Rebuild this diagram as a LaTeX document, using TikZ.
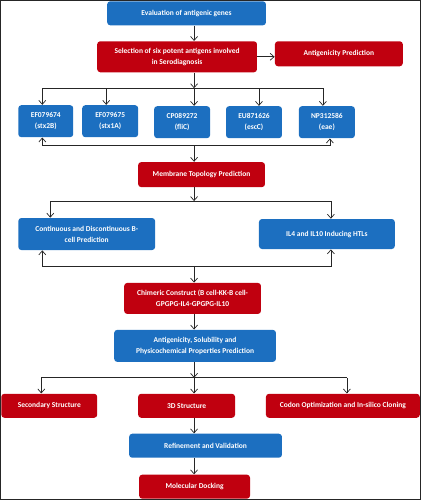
\documentclass[tikz,border=0pt]{standalone}
\usepackage{fontspec}
\setmainfont{Carlito}
\definecolor{boxBlue}{HTML}{1C6FC0}
\definecolor{boxRed}{HTML}{C0000F}
\colorlet{lineColor}{black!85}
\usepackage{tikz}
\usetikzlibrary{arrows.meta, positioning}
\tikzset{
  box/.style={rounded corners=3pt, text=white, align=center, inner sep=1pt,
    font=\fontsize{7.5}{11}\selectfont\bfseries},
  blueBox/.style={box, fill=boxBlue},
  redBox/.style={box, fill=boxRed},
}

\begin{document}
\begin{tikzpicture}[x=1pt, y=-1pt, >={Straight Barb[length=4pt, width=7pt]}, every path/.style={draw=lineColor, line width=0.7pt}]
\useasboundingbox (0,0) rectangle (421,500);
\coordinate (axis) at (194,0);
% top
\node[blueBox, minimum width=159pt, minimum height=24pt] (eval) at (186.5,13) {Evaluation of antigenic genes};
\node[redBox, minimum width=160pt, minimum height=31pt] (sel) at (177,56.5) {Selection of six potent antigens involved\\in Serodiagnosis};
\node[redBox, minimum width=128pt, minimum height=25pt] (antp) at (339,53.5) {Antigenicity Prediction};
% genes
\node[blueBox, minimum width=55pt, minimum height=32pt] (g1) at (45.5,121) {EF079674\\(stx2B)};
\node[blueBox, minimum width=56pt, minimum height=32pt] (g2) at (110,121) {EF079675\\(stx1A)};
\node[blueBox, minimum width=56pt, minimum height=32pt] (g3) at (182,122) {CP089272\\(fliC)};
\node[blueBox, minimum width=56pt, minimum height=32pt] (g4) at (254,122) {EU871626\\(escC)};
\node[blueBox, minimum width=56pt, minimum height=32pt] (g5) at (327,122) {NP312586\\(eae)};
\node[redBox, minimum width=127pt, minimum height=25pt] (memb) at (201.5,174.5) {Membrane Topology Prediction};
% epitopes
\node[blueBox, minimum width=137pt, minimum height=32pt] (cont) at (86.5,234) {Continuous and Discontinuous B-\\cell Prediction};
\node[blueBox, minimum width=136pt, minimum height=30pt] (il) at (327,234) {IL4 and IL10 Inducing HTLs};
\node[redBox, minimum width=137pt, minimum height=31pt] (chim) at (192.5,298.5) {Chimeric Construct (B cell-KK-B cell-\\GPGPG-IL4-GPGPG-IL10};
\node[blueBox, minimum width=162pt, minimum height=32pt] (asp) at (195,346) {Antigenicity, Solubility and\\Physicochemical Properties Prediction};
% structure
\node[redBox, minimum width=96pt, minimum height=24pt] (sec) at (49,406) {Secondary Structure};
\node[redBox, minimum width=97pt, minimum height=24pt] (s3d) at (186.5,406) {3D Structure};
\node[redBox, minimum width=154pt, minimum height=24pt] (codon) at (343,406) {Codon Optimization and In-silico Cloning};
\node[blueBox, minimum width=153pt, minimum height=24pt] (ref) at (205.5,446) {Refinement and Validation};
\node[redBox, minimum width=111pt, minimum height=24pt] (dock) at (194.5,487) {Molecular Docking};

% connectors
\draw[->] (eval.south -| axis) -- (sel.north -| axis);
\draw[->] (sel.east) -- (sel.east -| antp.west);
\foreach \n/\x in {g1/42, g2/106, g3/194, g4/259, g5/323} {
  \coordinate (t\n) at (\x,88);
  \draw[->] (t\n) -- (t\n |- \n.north);
}
\draw[->] (sel.south -| axis) -- (axis |- tg1);
\draw (tg1) -- (tg5);
\coordinate (u1) at (42,145);
\coordinate (u5) at (330,145);
\draw[<->] (g1.south -| u1) -- (u1) -- (u5) -- (g5.south -| u5);
\draw[->] (axis |- u1) -- (memb.north -| axis);
\coordinate (v1) at (50,201);
\coordinate (v2) at (331,201);
\draw[->] (memb.south -| axis) -- (axis |- v1);
\draw[<->] (cont.north -| v1) -- (v1) -- (v2) -- (il.north -| v2);
\coordinate (w1) at (42,266);
\coordinate (w2) at (331,266);
\draw[<->] (cont.south -| w1) -- (w1) -- (w2) -- (il.south -| w2);
\draw[->] (axis |- w1) -- (chim.north -| axis);
\draw[->] (chim.south -| axis) -- (asp.north -| axis);
\foreach \n/\x in {sec/41, s3d/194, codon/347} {
  \coordinate (t\n) at (\x,378);
  \draw[->] (t\n) -- (t\n |- \n.north);
}
\draw[->] (asp.south -| axis) -- (axis |- tsec);
\draw (tsec) -- (tcodon);
\draw[->] (s3d.south -| axis) -- (ref.north -| axis);
\draw[->] (ref.south -| axis) -- (dock.north -| axis);
\end{tikzpicture}
\end{document}
